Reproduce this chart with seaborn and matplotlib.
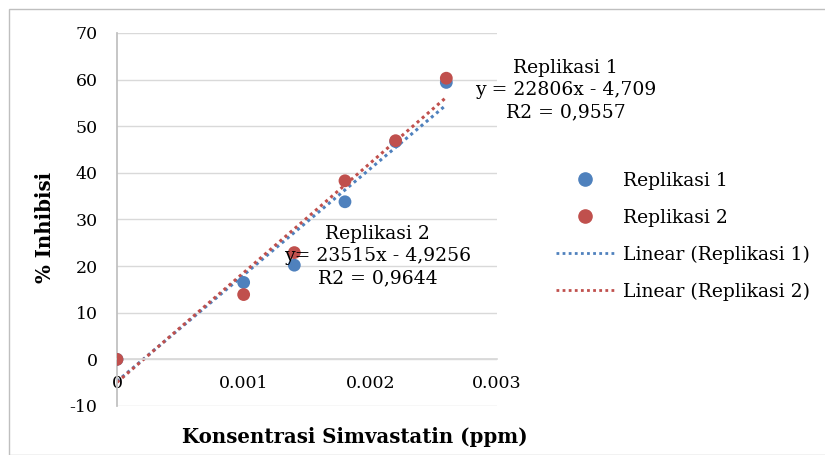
import numpy as np
import matplotlib.pyplot as plt
import seaborn as sns
import pandas as pd
from matplotlib.patches import Rectangle
from matplotlib.lines import Line2D

# data
konsentrasi = [0, 0.001, 0.0014, 0.0018, 0.0022, 0.0026]
replikasi_1 = [0, 16.5, 20.2, 33.8, 46.7, 59.4]
replikasi_2 = [0, 13.9, 22.9, 38.3, 46.9, 60.3]
slopes = [22806, 23515]
intercepts = [-4.709, -4.9256]
series = ['Replikasi 1', 'Replikasi 2']
colors = ['#4F81BD', '#C0504D']

sns.set_theme(style='white')
plt.rcParams['font.family'] = ['DejaVu Serif']
plt.rcParams['axes.unicode_minus'] = False
plt.rcParams['text.color'] = 'black'

df = pd.DataFrame({
    'x': konsentrasi * 2,
    'y': replikasi_1 + replikasi_2,
    'seri': [series[0]] * 6 + [series[1]] * 6,
})

xs = np.array([0, max(konsentrasi)])
trend = pd.DataFrame({
    'x': np.concatenate([xs, xs]),
    'y': np.concatenate([slopes[0] * xs + intercepts[0], slopes[1] * xs + intercepts[1]]),
    'seri': [series[0]] * 2 + [series[1]] * 2,
})

fig = plt.figure(figsize=(8.25, 4.55), dpi=100)
ax = fig.add_axes([0.1418, 0.1077, 0.4606, 0.8198])

sns.lineplot(data=trend, x='x', y='y', hue='seri', palette=colors, ax=ax,
             linestyle=(0, (1, 1.2)), linewidth=2.2, legend=False)
sns.scatterplot(data=df, x='x', y='y', hue='seri', palette=colors, ax=ax,
                s=85, edgecolor='none', legend=False, zorder=3)

ax.set_xlim(0, 0.003)
ax.set_ylim(-10, 70)
ax.set_yticks(range(-10, 71, 10))
ax.set_xticks([0, 0.001, 0.002, 0.003])
ax.set_xticklabels(['0', '0.001', '0.002', '0.003'])
ax.yaxis.grid(True, color='#d9d9d9', linewidth=1)
ax.set_axisbelow(True)
ax.tick_params(axis='both', length=0, labelsize=12.5, colors='black')
ax.tick_params(axis='y', pad=14)
ax.tick_params(axis='x', pad=11)

for s in ['top', 'right']:
    ax.spines[s].set_visible(False)
ax.spines['left'].set_color('#bfbfbf')
ax.spines['bottom'].set_position(('data', 0))
ax.spines['bottom'].set_color('#d9d9d9')

ax.set_xlabel('')
ax.set_ylabel('')
fig.text(0.43, 0.04, 'Konsentrasi Simvastatin (ppm)', ha='center', va='center',
         fontsize=14.2, fontweight='bold')
fig.text(0.055, 0.50, '% Inhibisi', ha='center', va='center', rotation=90,
         fontsize=14.2, fontweight='bold')

# trendline labels
ax.text(0.00354, 57.8, 'Replikasi 1\ny = 22806x - 4,709\nR2 = 0,9557',
        ha='center', va='center', fontsize=13.5, linespacing=1.3, clip_on=False)
ax.text(0.00206, 22.1, 'Replikasi 2\ny= 23515x - 4,9256\nR2 = 0,9644',
        ha='center', va='center', fontsize=13.5, linespacing=1.3)

handles = [
    Line2D([], [], marker='o', linestyle='none', color=colors[0], markersize=9.5),
    Line2D([], [], marker='o', linestyle='none', color=colors[1], markersize=9.5),
    Line2D([], [], linestyle=(0, (1, 1.2)), color=colors[0], linewidth=2),
    Line2D([], [], linestyle=(0, (1, 1.2)), color=colors[1], linewidth=2),
]
labels = ['Replikasi 1', 'Replikasi 2', 'Linear (Replikasi 1)', 'Linear (Replikasi 2)']
fig.legend(handles, labels, loc='center left', bbox_to_anchor=(0.654, 0.481),
           frameon=False, fontsize=13.5, handlelength=3.1, labelspacing=1.0,
           handletextpad=0.43)

fig.patches.append(Rectangle((0.011, 0.0), 0.99, 0.98, transform=fig.transFigure,
                             fill=False, edgecolor='#bfbfbf', linewidth=1))

fig.savefig('out.png', dpi=100)
